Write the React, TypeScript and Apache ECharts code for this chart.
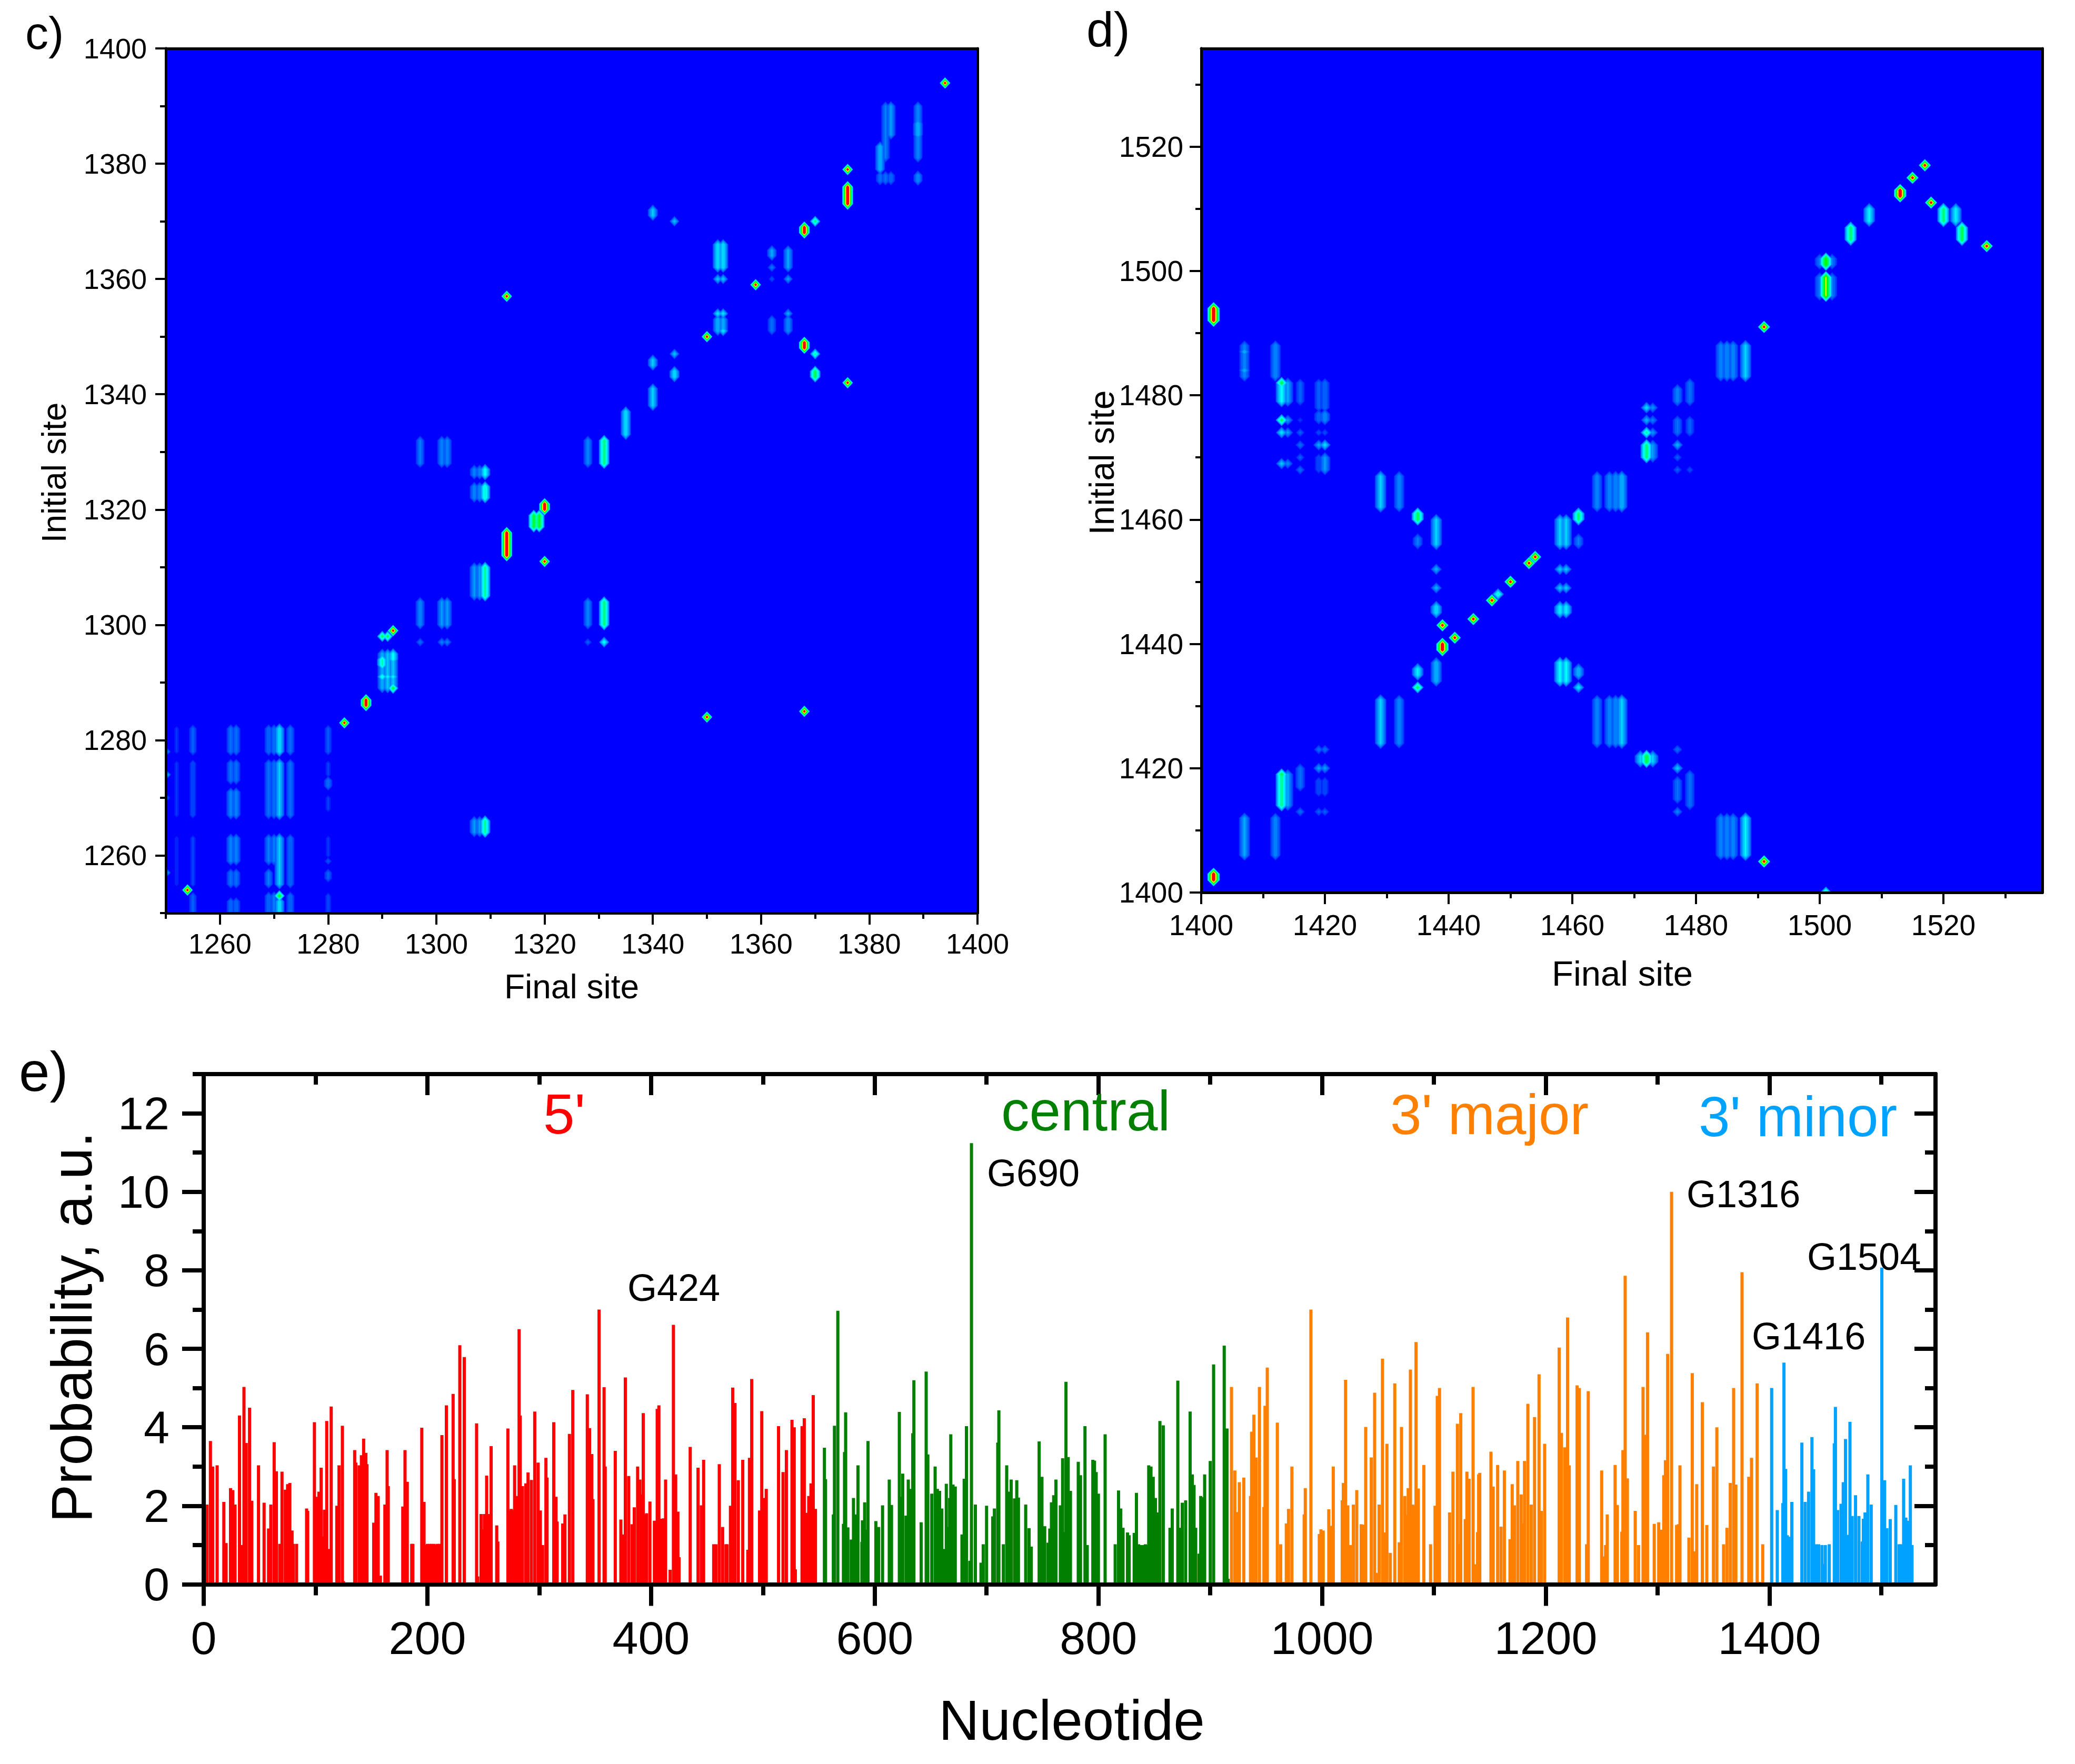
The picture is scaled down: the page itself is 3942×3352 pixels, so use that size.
import React, { useEffect, useRef } from "react";
import * as echarts from "echarts";

// [final site, first initial site, last initial site, peak intensity]
const spotsC = [
  [1394,1394,1394,1],[1383,1381,1390,.3],[1384,1385,1390,.36],[1382,1379,1383,.42],[1382,1377,1378,.28],[1383,1377,1378,.28],[1384,1377,1378,.27],
  [1389,1381,1390,.33],[1389,1385,1387,.42],[1389,1377,1378,.34],[1376,1379,1379,1],[1376,1373,1376,1],[1340,1371,1372,.45],[1344,1370,1370,.45],
  [1368,1368,1369,1],[1370,1370,1370,.7],[1352,1362,1366,.5],[1353,1362,1366,.5],[1352,1360,1360,.46],[1353,1360,1360,.46],
  [1362,1364,1365,.38],[1362,1362,1362,.3],[1362,1360,1360,.2],[1365,1362,1365,.38],[1365,1360,1360,.38],[1359,1359,1359,1],[1313,1357,1357,1],
  [1352,1354,1354,.52],[1353,1354,1354,.52],[1352,1351,1353,.42],[1353,1351,1353,.4],[1353,1351,1351,.52],[1362,1351,1353,.28],[1365,1354,1354,.4],[1365,1351,1353,.34],
  [1350,1350,1350,1],[1368,1348,1349,1],[1370,1347,1347,.65],[1344,1347,1347,.45],[1340,1345,1346,.45],[1344,1343,1344,.5],[1370,1343,1344,.72],[1376,1342,1342,1],
  [1340,1338,1341,.46],[1335,1333,1337,.5],[1328,1328,1332,.32],[1331,1328,1332,.68],[1297,1328,1332,.3],[1301,1328,1332,.32],[1302,1328,1332,.32],
  [1307,1326,1327,.32],[1308,1326,1327,.32],[1309,1326,1327,.55],[1307,1322,1324,.33],[1308,1322,1324,.33],[1309,1322,1324,.6],[1320,1320,1321,1],
  [1318,1317,1319,.75],[1319,1317,1319,.75],[1313,1312,1316,1],[1320,1311,1311,1],[1307,1305,1310,.36],[1308,1305,1310,.36],[1309,1305,1310,.65],
  [1297,1300,1304,.33],[1297,1297,1297,.28],[1301,1300,1304,.36],[1302,1300,1304,.36],[1301,1297,1297,.32],[1302,1297,1297,.32],[1328,1300,1304,.32],[1328,1297,1297,.24],
  [1331,1300,1304,.68],[1331,1297,1297,.58],[1292,1299,1299,1],[1290,1298,1298,.72],[1291,1298,1298,.72],[1290,1289,1295,.4],[1291,1289,1295,.44],[1292,1289,1295,.44],
  [1290,1293,1294,.62],[1290,1291,1291,.6],[1291,1291,1291,.55],[1292,1294,1295,.55],[1292,1291,1291,.55],[1292,1289,1289,.75],[1287,1286,1287,1],[1283,1283,1283,1],
  [1350,1284,1284,1],[1368,1285,1285,1],[1307,1264,1266,.36],[1308,1264,1266,.36],[1309,1264,1266,.65],[1254,1254,1254,1],[1271,1253,1253,.78],
  [1255,1278,1282,.24],[1255,1267,1276,.2],[1255,1255,1263,.17],[1255,1250,1253,.24],
  [1262,1278,1282,.28],[1263,1278,1282,.28],[1262,1273,1276,.28],[1263,1273,1276,.28],[1262,1267,1271,.32],[1263,1267,1271,.32],[1262,1259,1263,.32],[1263,1259,1263,.32],
  [1262,1255,1257,.28],[1263,1255,1257,.28],[1262,1250,1252,.27],[1263,1250,1252,.27],
  [1269,1278,1282,.27],[1270,1278,1282,.28],[1269,1267,1276,.28],[1270,1267,1276,.28],[1269,1259,1263,.3],[1270,1259,1263,.3],[1269,1255,1257,.3],[1269,1250,1253,.27],[1270,1250,1253,.3],
  [1271,1278,1282,.5],[1271,1267,1276,.45],[1271,1255,1263,.45],[1271,1250,1252,.5],[1273,1278,1282,.28],[1273,1267,1276,.28],[1273,1255,1263,.27],[1273,1250,1253,.27],
  [1280,1278,1282,.22],[1280,1274,1276,.16],[1280,1272,1273,.28],[1280,1268,1270,.16],[1280,1260,1263,.15],[1280,1259,1259,.22],[1280,1256,1257,.24],[1280,1250,1253,.18],
  [1250,1278,1278,.4],[1250,1274,1274,.5],[1250,1270,1270,.3],[1250,1257,1257,.45],[1252,1278,1282,.15],[1252,1267,1276,.15],[1252,1255,1263,.14]
];

const spotsD = [
  [1402,1492,1494,1],[1491,1491,1491,1],[1501,1501,1502,.8],[1500,1501,1502,.3],[1502,1501,1502,.3],[1501,1496,1499,.85],[1500,1496,1499,.3],[1502,1496,1499,.3],
  [1505,1505,1507,.68],[1508,1508,1510,.52],[1513,1512,1513,1],[1515,1515,1515,1],[1517,1517,1517,1],[1518,1511,1511,1],[1520,1508,1510,.68],[1522,1508,1510,.52],
  [1523,1505,1507,.72],[1527,1504,1504,1],[1407,1483,1488,.32],[1407,1487,1487,.42],[1407,1484,1484,.42],[1412,1483,1488,.34],[1413,1479,1482,.55],[1413,1482,1482,.75],
  [1414,1479,1482,.38],[1413,1476,1476,.72],[1414,1476,1476,.38],[1413,1474,1474,.52],[1414,1474,1474,.38],[1413,1469,1469,.46],[1414,1469,1469,.34],
  [1416,1479,1482,.24],[1416,1476,1476,.16],[1416,1474,1474,.24],[1416,1472,1472,.28],[1416,1470,1470,.24],[1416,1468,1468,.28],
  [1419,1478,1482,.24],[1420,1478,1482,.27],[1419,1476,1477,.26],[1420,1476,1477,.34],[1419,1474,1474,.2],[1420,1474,1474,.2],[1419,1472,1472,.4],[1420,1472,1472,.5],
  [1419,1468,1470,.2],[1420,1468,1470,.36],[1429,1462,1467,.46],[1432,1462,1467,.33],[1435,1460,1461,.72],[1438,1456,1460,.46],[1464,1462,1467,.33],[1466,1462,1467,.33],[1467,1462,1467,.34],[1468,1462,1467,.42],
  [1472,1478,1478,.5],[1473,1478,1478,.36],[1472,1476,1476,.42],[1473,1476,1476,.32],[1472,1474,1474,.66],[1473,1474,1474,.36],[1472,1470,1472,.68],[1473,1470,1472,.36],
  [1477,1479,1481,.32],[1477,1474,1476,.28],[1477,1472,1472,.42],[1477,1470,1470,.24],[1477,1468,1468,.24],[1479,1479,1482,.28],[1479,1474,1476,.24],[1479,1468,1468,.2],
  [1484,1483,1488,.33],[1485,1483,1488,.34],[1486,1483,1488,.33],[1488,1483,1488,.46],[1461,1460,1461,.68],[1435,1456,1457,.3],[1458,1456,1460,.46],[1459,1456,1460,.46],[1461,1456,1457,.3],
  [1453,1453,1453,1],[1454,1454,1454,1],[1438,1452,1452,.42],[1458,1452,1452,.46],[1459,1452,1452,.46],[1438,1449,1449,.42],[1458,1449,1449,.46],[1459,1449,1449,.46],
  [1450,1450,1450,1],[1448,1448,1448,.62],[1447,1447,1447,1],[1444,1444,1444,1],[1439,1443,1443,1],[1441,1441,1441,1],[1439,1439,1440,1],[1438,1445,1446,.5],[1458,1445,1446,.52],[1459,1445,1446,.52],
  [1438,1434,1437,.42],[1435,1435,1436,.52],[1435,1433,1433,.72],[1458,1434,1437,.54],[1459,1434,1437,.54],[1461,1435,1436,.42],[1461,1433,1433,.52],
  [1429,1424,1431,.46],[1432,1424,1431,.33],[1464,1424,1431,.33],[1466,1424,1431,.33],[1467,1424,1431,.34],[1468,1424,1431,.46],
  [1472,1421,1422,.74],[1471,1421,1422,.46],[1473,1421,1422,.46],[1477,1423,1423,.28],[1477,1420,1420,.46],[1477,1415,1418,.28],[1477,1413,1413,.33],[1479,1414,1419,.28],
  [1419,1423,1423,.28],[1420,1423,1423,.28],[1419,1420,1420,.38],[1420,1420,1420,.38],[1419,1416,1418,.2],[1420,1416,1418,.2],[1419,1413,1413,.24],[1420,1413,1413,.24],
  [1416,1417,1420,.28],[1416,1413,1413,.28],[1413,1414,1419,.66],[1413,1419,1419,.74],[1414,1414,1419,.38],[1407,1406,1412,.38],[1412,1406,1412,.33],
  [1484,1406,1412,.33],[1485,1406,1412,.33],[1486,1406,1412,.33],[1488,1406,1412,.52],[1491,1405,1405,1],[1402,1402,1403,1],[1501,1400,1400,.7]
];

const heatLevels = [0.1, 0.14, 0.2, 0.27, 0.34, 0.42, 0.5, 0.58, 0.66, 0.74, 0.82, 0.9];
const heatColours = ["#0020ff", "#0040ff", "#0060ff", "#0080ff", "#00a8ff", "#00d4ff", "#00ffff", "#00ffa0", "#00ff50", "#00ff00", "#ffff00", "#ff0000"];

// [nucleotide, probability]
const fivePrime = [[3,2.03],[6,3.65],[8,3],[12,3.03],[18,2.1],[20,1.05],[24,2.45],[26,2.4],[28,2.03],[32,4.3],[34,1],[36,5.03],[38,3.6],[41,4.5],[43,2.13],[49,3.03],[54,2.08],[58,1.42],[60,2.03],[63,3.62],[65,2.88],[68,1.03],[70,2.87],[73,2.41],[75,2.55],[77,2.58],[79,1.37],[80,1.03],[83,1.03],[92,1.93],[93,1.87],[99,4.13],[101,2.23],[103,2.36],[105,2.97],[107,1.22],[108,1.9],[110,4.16],[112,.9],[114,4.53],[119,2],[121,3.03],[124,4.04],[125,.08],[135,3.42],[136,3.1],[139,3.03],[141,3.29],[143,3.71],[145,3.35],[146,3.06],[152,1.57],[154,2.33],[156,2.25],[158,.22],[162,2.03],[164,3.42],[165,2.5],[178,1.98],[180,3.42],[182,2.61],[186,1.03],[187,1.03],[195,3.99],[197,2.1],[199,1],[200,1.03],[202,1.03],[204,1.03],[206,1.03],[208,1],[209,1.03],[211,1.03],[213,3.8],[217,4.56],[223,4.85],[224,2.68],[229,6.09],[233,5.79],[244,4.1],[245,.2],[248,1.79],[250,1.4],[251,1.79],[253,2.77],[255,1.79],[257,3.52],[262,1.5],[263,1.09],[272,3.97],[273,1.88],[275,1.92],[276,1.89],[278,3.03],[280,2.25],[282,6.5],[283,4.3],[285,2.5],[288,2.57],[290,2.85],[293,2.66],[296,4.4],[299,3.1],[301,1.88],[303,1],[306,3.22],[307,2.72],[313,4.13],[315,2.23],[316,1.6],[321,1.55],[323,1.78],[327,3.83],[330,4.95],[343,4.84],[345,3.98],[347,3.32],[348,2.17],[353.5,7],[358,5.02],[359,3],[368,3.4],[373,1.65],[375,1.27],[377,5.27],[380,2.76],[383,1.53],[385,1.96],[388,3],[390,2.67],[392,2.29],[393,4.36],[395,1.78],[396,1.81],[399,2.11],[403,1.62],[404,.71],[405.5,4.47],[407,4.56],[409,1.67],[411,1.68],[413,2.67],[417,.37],[420,6.61],[422,2.8],[424,1.85],[425,.69],[435,3.5],[442,2.97],[445,2.01],[447,3.17],[456,1.02],[458,1.02],[461,3.06],[464,1.46],[467,1.02],[468,1.02],[471,2],[473,5.01],[475,4.62],[478,2.65],[482,3.17],[486.5,.88],[488,3.22],[490,5.23],[497,1.88],[499,4.41],[501,2.2],[503,2.43],[514,4.03],[518,2.86],[521,3.42],[526,4.19],[528,4],[529,.38],[535,4.03],[537,4.23],[539,1.82],[541,2.25],[543,2.57],[545,4.82],[547,1.92]];
const central = [[555,3.48],[556,2.68],[563,1.78],[564,4.04],[567,6.97],[572,1.54],[573,3.37],[574,4.38],[576,1.45],[579,1.14],[581,2.2],[583,1.78],[585,3.03],[588.5,1.08],[589,1.63],[591,2.09],[592.5,1.39],[594,3.65],[601,1.61],[603.5,1.46],[607,2.01],[613,2.67],[615,2.02],[622,4.39],[624,2.23],[625,2.82],[628,1.75],[630,2.67],[632,2.43],[634,3.85],[635,5.2],[641.5,1.58],[646,5.42],[647.5,3.31],[651,2.31],[654,3],[656,2.43],[658,2.38],[660,1.93],[661,.81],[662,.9],[664,2.56],[666,1.46],[667,2.2],[668,3.82],[670,2.54],[672,2.49],[678,1.27],[680,2.69],[682,4.03],[685,.6],[686.5,11.24],[690,2.03],[695,.55],[697,1.02],[700,2],[705.5,1.73],[707,1.93],[710,3.61],[711,4.43],[715,1.02],[718,3.03],[720,2.36],[722,2.67],[725,2.19],[727,2.65],[728.5,2.21],[735,2.03],[738,1.43],[740,.96],[747,3.64],[749.5,2.74],[752,1.48],[755,1.06],[756.5,1.42],[758,2.09],[760,2.27],[762,2.67],[766,2.01],[768,3.21],[770,1.33],[771,5.16],[773,3.24],[775,2.38],[782,3.12],[784,2.78],[788,4.03],[790,1],[795,3.17],[796.5,3.15],[798,2.86],[800,2.31],[806,3.82],[815,1.02],[818,2.39],[820,1.93],[822,1.44],[826,1.32],[827.5,1.25],[832,1.31],[834,2.33],[836,1.02],[838,1],[840,1],[842,1.02],[844,1],[845,3.03],[847,3],[849,2.74],[851,2.2],[852.5,1.83],[853.5,1.8],[855,4.16],[858,4.05],[864,1.44],[866,1.93],[871,5.19],[873,1.44],[875,2.08],[878,2.14],[882,4.4],[884,2.8],[885.5,2.53],[887,1.44],[890,.78],[891.5,2.25],[893.5,2.22],[895,2.8],[900,3.14],[903,5.6],[912.5,6.08],[915,3.97],[916,.14]];
const threePrimeMajor = [[919,5.03],[922,2.9],[924,1.84],[926,2.6],[930,2.72],[936,2.25],[937,3.89],[939,4.32],[941,3.23],[944,5.03],[948,1.97],[949,4.55],[951,5.52],[960,4.12],[963,1.02],[966,.06],[968,1.55],[970,1.92],[973,3],[984,1.78],[985,2.45],[990,7],[997.5,1.28],[999,1.4],[1001,1.37],[1006,1.91],[1007.5,1.49],[1009,1.14],[1010,3],[1018,2.14],[1019,2.58],[1021,5.21],[1023,2.01],[1025.5,1],[1028,2.03],[1031,2.4],[1035,1.53],[1036.5,1.52],[1039,4.01],[1044,3.23],[1047,4.88],[1049,.29],[1051,2.03],[1054,5.75],[1056,1.32],[1058,3.58],[1061,.8],[1065,5.12],[1069,1.07],[1071,4.01],[1074,2.25],[1076,1.77],[1077,2.45],[1079,5.47],[1081,2.03],[1082.5,2],[1084,6.17],[1086,2.44],[1091,3.04],[1097,1.02],[1101,2],[1103,4.8],[1105,5],[1114,1.83],[1117,2.87],[1121,4.09],[1123,1.02],[1124,4.36],[1128,1.66],[1129.5,2.87],[1131.5,2.69],[1135,5.03],[1137,.51],[1139,1.33],[1140,2.8],[1141,2.84],[1151,3.38],[1153,2.49],[1157,3.04],[1160,1.47],[1163,2.9],[1168,1.15],[1170,2.55],[1172,2.01],[1175,3.14],[1178,2.29],[1180,1.55],[1181,3.14],[1184,4.6],[1187,2.03],[1190,4.26],[1194,5.35],[1196,1.87],[1199,3.58],[1212,6.03],[1214,3.86],[1217,3.49],[1219.5,6.8],[1221,3.03],[1228,5.07],[1230,5],[1236.5,1.02],[1238,4.92],[1250,2.9],[1252,.71],[1253.5,1],[1255,1.78],[1262,3.04],[1264,2.02],[1268,1.34],[1269,3.42],[1271,7.86],[1273,2.7],[1280,1.87],[1283,1],[1287,5.03],[1289,3.8],[1290,3.81],[1291,6.42],[1297,1.54],[1301,1.58],[1303,1.39],[1305.5,2.78],[1307,3.16],[1309,5.87],[1312.5,10],[1317,1.51],[1318.5,1.53],[1320,3.03],[1328,1.19],[1331,5.38],[1333,.84],[1335,2.55],[1340,4.64],[1344,1.51],[1350,3],[1353,4],[1359,1.02],[1362,1.44],[1365,2.58],[1368,5],[1370,2.54],[1374,.06],[1375.5,7.95],[1381.5,2.74],[1384,3.22],[1389,5.12],[1391,.06],[1394,1.02]];
const threePrimeMinor = [[1402,5],[1407,1.89],[1412,2.07],[1413,5.65],[1414.5,2.94],[1416,1.25],[1418,1.21],[1420,2.1],[1429,3.61],[1432,2.1],[1435,2.36],[1438,3.75],[1439.5,2.93],[1441.5,1.02],[1444,1.02],[1447,1],[1448.5,.52],[1450,1],[1453.5,1.02],[1458,3.59],[1459,4.52],[1461,1.89],[1464,2.05],[1466,2.6],[1468,3.7],[1470,1.26],[1472,4.14],[1474,1.74],[1477,2.27],[1480,1.74],[1483,1.09],[1484,1.67],[1485.5,1.83],[1488,2.8],[1491,2.03],[1496,.05],[1500.5,8.07],[1503,2.65],[1505,1.43],[1508,1.66],[1513,2.02],[1516,1.02],[1517.5,1.02],[1520,2.69],[1522,1.7],[1523.5,1.62],[1526,3.03],[1527.5,1]];

const cMajor = [1260,1280,1300,1320,1340,1360,1380,1400];
const cMinor = [1250,1270,1290,1310,1330,1350,1370,1390];
const dMajor = [1400,1420,1440,1460,1480,1500,1520];
const dMinor = [1410,1430,1450,1470,1490,1510,1530];
const eXMajor = [0,200,400,600,800,1000,1200,1400];
const eXMinor = [100,300,500,700,900,1100,1300,1500];
const eYMajor = [0,2,4,6,8,10,12];
const eYMinor = [1,3,5,7,9,11,13];

const FONT = "Liberation Sans";

function axis(gridIndex: number, position: string, min: number, max: number, o: any = {}) {
  return {
    type: "value", gridIndex, position, min, max, z: 10, scale: true,
    splitLine: { show: false },
    axisLine: { show: true, onZero: false, lineStyle: { color: "#000", width: o.line ?? 5 } },
    axisTick: o.ticks
      ? { show: true, inside: !!o.inside, length: o.len, customValues: o.ticks, lineStyle: { color: "#000", width: o.tw ?? 4 } }
      : { show: false },
    axisLabel: o.labels
      ? { show: true, customValues: o.labels, fontFamily: FONT, fontSize: o.fs, color: "#000", margin: o.margin, padding: o.pad ?? 0, formatter: (v: number) => String(v) }
      : { show: false },
  };
}

function buildHeat(spots: number[][]) {
  const rows: number[][] = [];
  heatLevels.forEach((_, li) => {
    spots.forEach((s) => {
      if (s[3] > heatLevels[li]) rows.push([s[0], s[1], s[2], s[3], li]);
    });
  });
  return rows;
}

function renderSpot(_: any, api: any) {
  const x = api.value(0), y0 = api.value(1), y1 = api.value(2), v = api.value(3), li = api.value(4);
  const r = 1 - Math.pow(heatLevels[li] / v, 1 + 2 * v);
  const pts = [[x, y0 - r], [x + r, y0], [x + r, y1], [x, y1 + r], [x - r, y1], [x - r, y0]].map((p) => api.coord(p));
  return { type: "polygon", silent: true, shape: { points: pts }, style: { fill: heatColours[li] } };
}

function heatSeries(spots: number[][], xi: number, yi: number) {
  return {
    type: "custom", xAxisIndex: xi, yAxisIndex: yi, clip: true, silent: true, z: 2,
    renderItem: renderSpot, encode: { x: 0, y: 1 }, dimensions: ["x", "y0", "y1", "v", "l"], data: buildHeat(spots),
  };
}

function barSeries(data: number[][], color: string, xi: number, yi: number) {
  return { type: "bar", xAxisIndex: xi, yAxisIndex: yi, data, barWidth: 6, barGap: "-100%", silent: true, z: 2, itemStyle: { color } };
}

const CENTRAL = 0.3465;
function label(text: string, x: number, base: number, size: number, fill = "#000", align = "left") {
  return { type: "text", x, y: base - CENTRAL * size, z: 20, silent: true,
    style: { text, font: `${size}px "${FONT}"`, fill, textAlign: align, verticalAlign: "middle" } };
}
function vLabel(text: string, baseX: number, cy: number, size: number) {
  return { type: "text", x: baseX - CENTRAL * size, y: cy, rotation: Math.PI / 2, z: 20, silent: true,
    style: { text, font: `${size}px "${FONT}"`, fill: "#000", textAlign: "center", verticalAlign: "middle" } };
}

export default function App() {
  const ref = useRef<HTMLDivElement>(null);
  useEffect(() => {
    const chart = echarts.init(ref.current!, null, { renderer: "svg" });
    const grid = (left: number, top: number, width: number, height: number, bg?: string) => ({
      left, top, width, height, show: !!bg, backgroundColor: bg ?? "transparent", borderWidth: 0,
    });
    chart.setOption({
      animation: false,
      backgroundColor: "#fff",
      grid: [grid(315, 92, 1542, 1643, "#0000ff"), grid(2282, 92, 1598, 1604, "#0000ff"), grid(387, 2041, 3290, 969.5)],
      xAxis: [
        axis(0, "bottom", 1250, 1400, { ticks: cMajor, labels: cMajor, len: 22, fs: 54, margin: 31 }),
        axis(0, "bottom", 1250, 1400, { ticks: cMinor, len: 11 }),
        axis(0, "top", 1250, 1400),
        axis(1, "bottom", 1400, 1536, { ticks: dMajor, labels: dMajor, len: 22, fs: 55, margin: 34 }),
        axis(1, "bottom", 1400, 1536, { ticks: dMinor, len: 11 }),
        axis(1, "top", 1400, 1536),
        axis(2, "bottom", 0, 1548.5, { ticks: eXMajor, labels: eXMajor, len: 41, tw: 8, line: 8, fs: 88, margin: 58 }),
        axis(2, "bottom", 0, 1548.5, { ticks: eXMinor, len: 21, tw: 8, line: 8 }),
        axis(2, "top", 0, 1548.5, { ticks: eXMajor, inside: true, len: 40, tw: 8, line: 8 }),
        axis(2, "top", 0, 1548.5, { ticks: eXMinor, inside: true, len: 20, tw: 8, line: 8 }),
      ],
      yAxis: [
        axis(0, "left", 1250, 1400, { ticks: cMajor, labels: cMajor, len: 20, fs: 54, margin: 36, pad: [0, 0, 5, 0] }),
        axis(0, "left", 1250, 1400, { ticks: cMinor, len: 11 }),
        axis(0, "right", 1250, 1400),
        axis(1, "left", 1400, 1535.8, { ticks: dMajor, labels: dMajor, len: 22, fs: 55, margin: 34, pad: [0, 0, 4, 0] }),
        axis(1, "left", 1400, 1535.8, { ticks: dMinor, len: 11 }),
        axis(1, "right", 1400, 1535.8),
        axis(2, "left", 0, 13, { ticks: eYMajor, labels: eYMajor, len: 41, tw: 8, line: 8, fs: 88, margin: 65, pad: [0, 0, 8, 0] }),
        axis(2, "left", 0, 13, { ticks: eYMinor, len: 21, tw: 8, line: 8 }),
        axis(2, "right", 0, 13, { ticks: eYMajor, inside: true, len: 40, tw: 8, line: 8 }),
        axis(2, "right", 0, 13, { ticks: eYMinor, inside: true, len: 20, tw: 8, line: 8 }),
      ],
      series: [
        heatSeries(spotsC, 0, 0),
        heatSeries(spotsD, 3, 3),
        barSeries(fivePrime, "#ff0000", 6, 6),
        barSeries(central, "#007f00", 6, 6),
        barSeries(threePrimeMajor, "#ff8000", 6, 6),
        barSeries(threePrimeMinor, "#00a2ff", 6, 6),
      ],
      graphic: [
        label("c)", 48, 93, 88),
        label("d)", 2064, 88, 93),
        label("e)", 36, 2073, 105),
        label("Final site", 1086, 1897, 64, "#000", "center"),
        label("Final site", 3082, 1873, 67, "#000", "center"),
        vLabel("Initial site", 125, 898, 64),
        vLabel("Initial site", 2116, 879, 66),
        label("Nucleotide", 2036, 3306, 107, "#000", "center"),
        vLabel("Probability, a.u.", 174, 2522, 109),
        label("5'", 1032, 2154, 107, "#ff0000"),
        label("central", 1902, 2148, 107, "#007f00"),
        label("3' major", 2641, 2155, 107, "#ff8000"),
        label("3' minor", 3227, 2159, 107, "#00a2ff"),
        label("G424", 1192, 2472, 72),
        label("G690", 1875, 2254, 72),
        label("G1316", 3204, 2294, 72),
        label("G1504", 3433, 2413, 72),
        label("G1416", 3328, 2564, 72),
      ],
    });
    return () => chart.dispose();
  }, []);
  return <div ref={ref} style={{ position: "absolute", left: 0, top: 0, width: 3942, height: 3352, background: "#fff" }} />;
}
